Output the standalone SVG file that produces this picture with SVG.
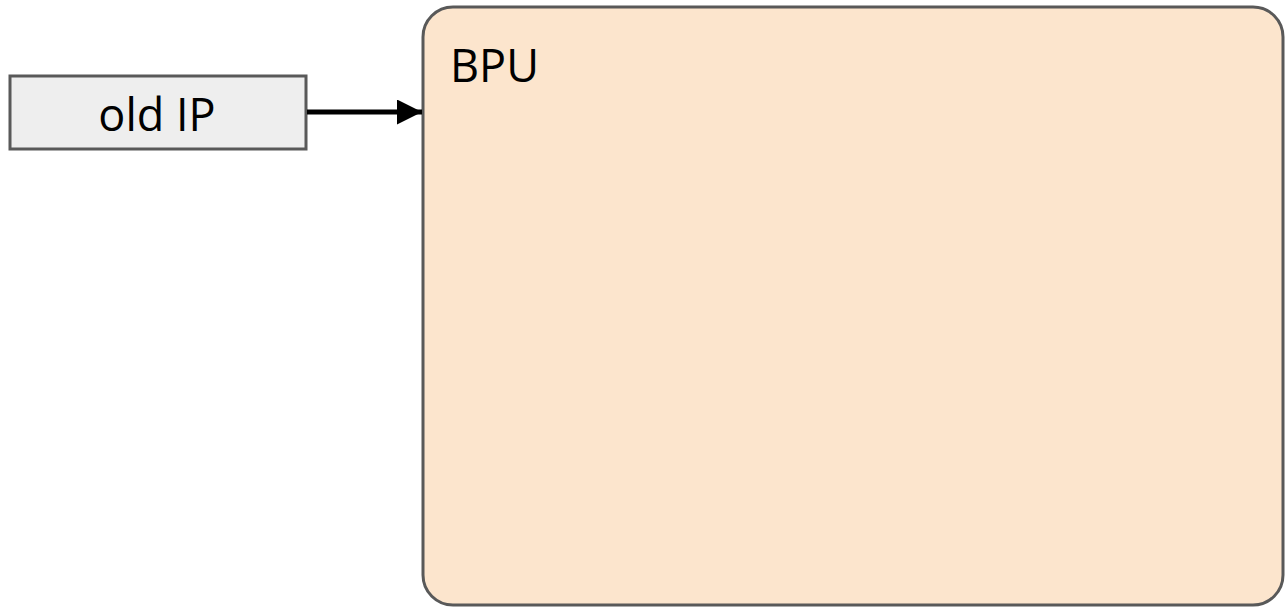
<svg xmlns="http://www.w3.org/2000/svg" width="1285" height="610" viewBox="0 0 1285 610">
  <style>
    .box { stroke: #595959; stroke-width: 3; }
    .label { font-family: "Open Sans", "Noto Sans", sans-serif; font-size: 45px; fill: #000000; }
    .wire { stroke: #000000; stroke-width: 5; fill: none; }
  </style>
  <defs>
    <marker id="arrow" viewBox="0 0 10 10" refX="10" refY="5" markerWidth="5.2" markerHeight="5" orient="auto" markerUnits="strokeWidth">
      <path d="M0,0 L10,5 L0,10 Z" fill="#000000"/>
    </marker>
  </defs>
  <rect width="1285" height="610" fill="#ffffff"/>
  <g id="bpu">
    <rect class="box" x="423" y="7" width="860" height="598" rx="30" ry="30" fill="#fce5cd" stroke-width="4"/>
    <text class="label" x="450" y="82">BPU</text>
  </g>
  <g id="old-ip">
    <rect class="box" x="10" y="76" width="296" height="73" fill="#eeeeee"/>
    <text class="label" x="157" y="131" text-anchor="middle">old IP</text>
  </g>
  <g id="connectors">
    <line class="wire" x1="307" y1="112" x2="422" y2="112" marker-end="url(#arrow)"/>
  </g>
</svg>
